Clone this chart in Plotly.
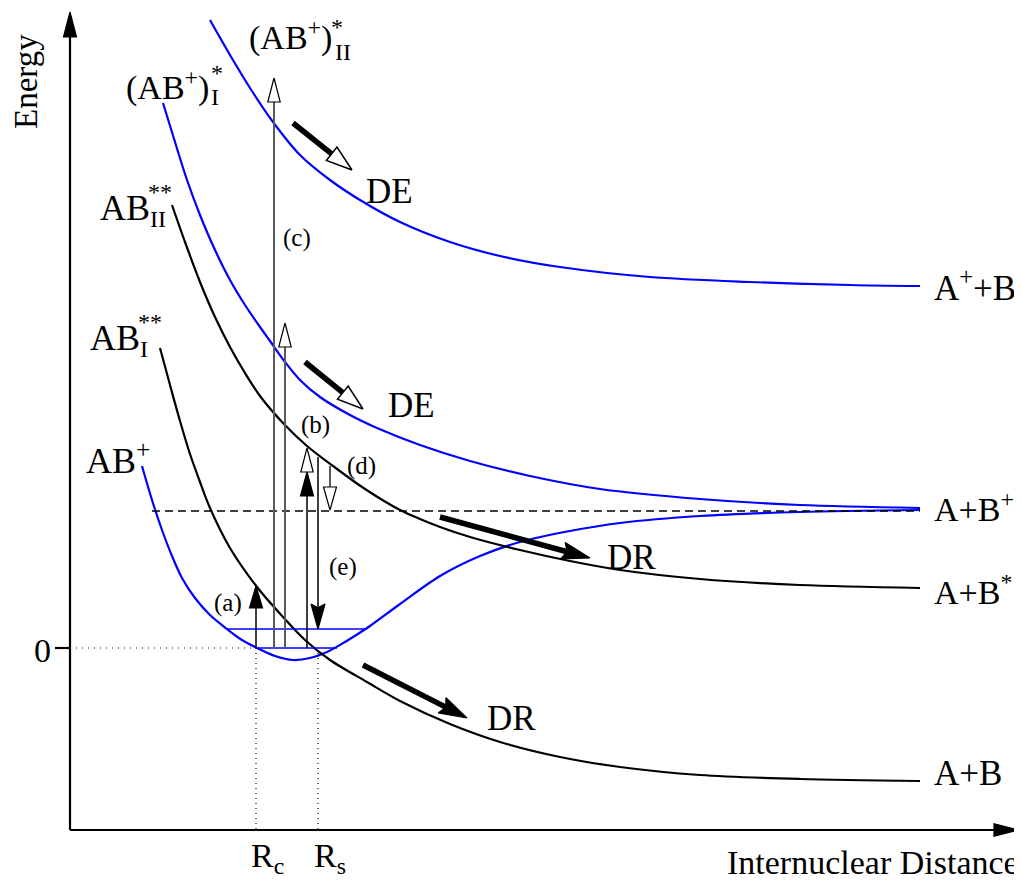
import plotly.graph_objects as go
import numpy as np

FONT = "Liberation Serif"
BLUE = "#0000ff"

# ---- potential energy curves (R = internuclear distance, E = energy, arbitrary units) ----
ion_R = [0.72, 0.82, 0.92, 1.02, 1.12, 1.25, 1.40, 1.57, 1.72, 1.87, 2.05, 2.23, 2.40, 2.57, 2.75,
         3.00, 3.30, 3.70, 4.10, 4.50, 5.00, 5.50, 6.30, 7.30, 8.50]
ion_E = [1.82, 1.48, 1.18, 0.92, 0.70, 0.50, 0.33, 0.19, 0.08, 0.00, -0.08, -0.12, -0.10, -0.04, 0.06,
         0.22, 0.44, 0.72, 0.92, 1.06, 1.17, 1.25, 1.32, 1.36, 1.38]

ionI_R = [0.93, 1.05, 1.17, 1.30, 1.45, 1.60, 1.75, 1.90, 2.00, 2.15, 2.30, 2.50, 2.80, 3.07, 3.50,
          4.00, 4.60, 5.30, 6.30, 7.30, 8.50]
ionI_E = [5.45, 5.06, 4.68, 4.33, 3.98, 3.68, 3.43, 3.21, 3.07, 2.86, 2.68, 2.51, 2.33, 2.20, 2.03,
          1.87, 1.72, 1.59, 1.49, 1.43, 1.40]

ionII_R = [1.40, 1.60, 1.80, 2.03, 2.30, 2.60, 2.90, 3.30, 3.80, 4.30, 4.90, 5.80, 6.80, 7.80, 8.50]
ionII_E = [6.28, 5.93, 5.60, 5.26, 4.93, 4.68, 4.48, 4.26, 4.06, 3.92, 3.81, 3.71, 3.66, 3.63, 3.62]

dsII_R = [1.02, 1.15, 1.30, 1.45, 1.60, 1.75, 1.90, 2.13, 2.37, 2.63, 2.95, 3.30, 3.50, 3.70, 4.00,
          4.50, 5.00, 5.50, 6.30, 7.30, 8.50]
dsII_E = [4.43, 4.06, 3.66, 3.31, 3.01, 2.75, 2.52, 2.25, 2.02, 1.82, 1.59, 1.38, 1.29, 1.21, 1.11,
          0.98, 0.87, 0.78, 0.69, 0.63, 0.60]

dsI_R = [0.90, 1.00, 1.10, 1.20, 1.30, 1.40, 1.60, 1.87, 2.13, 2.35, 2.60, 2.97, 3.30, 3.80, 4.30,
         4.90, 5.50, 6.30, 7.30, 8.50]
dsI_E = [3.00, 2.63, 2.27, 1.94, 1.66, 1.40, 1.00, 0.61, 0.31, 0.08, -0.12, -0.34, -0.53, -0.76, -0.94,
         -1.09, -1.19, -1.27, -1.31, -1.33]

# vibrational levels of AB+
vib_E = [0.00, 0.19]
vib_Rmin = [1.87, 1.57]
vib_Rmax = [2.67, 2.97]

# A + B+ asymptote (dashed)
asym_E = 1.37
asym_R = [0.82, 8.50]

# special distances
R_c = 1.86
R_s = 2.48

# axes extents
E_axis = -1.82
R_axis_end = 9.48
E_axis_end = 6.36

# vertical transitions: (R, E_from, E_to)
trans_a = (1.86, 0.00, 0.62)
trans_c = (2.04, 0.00, 5.70)
trans_x = (2.15, 0.00, 3.25)
trans_b = (2.37, 0.00, 1.76, 2.00)
trans_e = (2.48, 1.91, 0.19)
trans_d = (2.60, 1.82, 1.38)

# dissociation arrows: (R0, E0, R1, E1)
de_arrows = [(2.23, 5.25, 2.82, 4.78), (2.35, 2.86, 2.93, 2.39)]
dr_arrows = [(3.70, 1.31, 5.20, 0.90), (2.93, -0.17, 3.97, -0.70)]

fig = go.Figure()


def line(xs, ys, color="black", width=2, dash=None, shape="linear"):
    fig.add_trace(go.Scatter(x=xs, y=ys, mode="lines",
                             line=dict(color=color, width=width, dash=dash, shape=shape,
                                       smoothing=0.9 if shape == "spline" else None),
                             hoverinfo="skip", showlegend=False))


def head(x0, y0, x1, y1, L, W, filled=True, notch=0.0, lw=1.2):
    d = np.array([x1 - x0, y1 - y0], dtype=float)
    d /= np.linalg.norm(d)
    p = np.array([-d[1], d[0]])
    tip = np.array([x1, y1], dtype=float)
    base = tip - L * d
    pts = [tip, base + W * p, base + notch * L * d, base - W * p, tip]
    fig.add_trace(go.Scatter(x=[q[0] for q in pts], y=[q[1] for q in pts], mode="lines",
                             fill="toself", fillcolor="black" if filled else "white",
                             line=dict(color="black", width=lw),
                             hoverinfo="skip", showlegend=False))
    return base


# curves
line(ion_R, ion_E, BLUE, 2.2, shape="spline")
line(ionI_R, ionI_E, BLUE, 2.2, shape="spline")
line(ionII_R, ionII_E, BLUE, 2.2, shape="spline")
line(dsII_R, dsII_E, "black", 2.2, shape="spline")
line(dsI_R, dsI_E, "black", 2.2, shape="spline")

for e, r0, r1 in zip(vib_E, vib_Rmin, vib_Rmax):
    line([r0, r1], [e, e], BLUE, 1.3)

line(asym_R, [asym_E, asym_E], "black", 1.3, dash="8px,5px")
line([0, R_c], [0, 0], "black", 1.2, dash="1px,5px")
line([R_c, R_c], [0, E_axis], "black", 1.2, dash="1px,4px")
line([R_s, R_s], [-0.05, E_axis], "black", 1.2, dash="1px,4px")

# axes
line([0, 0], [E_axis, E_axis_end - 0.2], "black", 2.2)
line([0, R_axis_end - 0.2], [E_axis, E_axis], "black", 2.2)
head(0, 0, 0, E_axis_end, 0.25, 0.065)
head(0, E_axis, R_axis_end, E_axis, 0.24, 0.062)
line([-0.15, 0], [0, 0], "black", 2.2)

# vertical transitions
r, e0, e1 = trans_a
line([r, r], [e0, e1 - 0.1], "black", 1.5)
head(r, e0, r, e1, 0.22, 0.065)

for (r, e0, e1) in (trans_c, trans_x):
    line([r, r], [e0, e1 - 0.1], "#5a5a5a", 2)
    head(r, e0, r, e1, 0.24, 0.062, filled=False)

r, e0, e1, e2 = trans_b
line([r, r], [e0, e1 - 0.1], "black", 1.5)
head(r, e0, r, e1, 0.24, 0.065)
head(r, e0, r, e2, 0.24, 0.062, filled=False)

r, e0, e1 = trans_e
line([r, r], [e0, e1 + 0.1], "black", 1.5)
head(r, e0, r, e1, 0.25, 0.07, notch=0.15)

r, e0, e1 = trans_d
line([r, r], [e0, e1 + 0.1], "black", 1.3)
head(r, e0, r, e1, 0.23, 0.065, filled=False)

# DE / DR arrows
for (x0, y0, x1, y1) in de_arrows:
    d = np.hypot(x1 - x0, y1 - y0)
    f = (d - 0.24) / d
    line([x0, x0 + f * (x1 - x0)], [y0, y0 + f * (y1 - y0)], "black", 5.5)
    head(x0, y0, x1, y1, 0.26, 0.085, filled=False, lw=1.5)

for (x0, y0, x1, y1) in dr_arrows:
    d = np.hypot(x1 - x0, y1 - y0)
    f = (d - 0.2) / d
    line([x0, x0 + f * (x1 - x0)], [y0, y0 + f * (y1 - y0)], "black", 5.5)
    head(x0, y0, x1, y1, 0.28, 0.085, notch=0.15)

# labels
ann = []


def text(t, x, y, size=30, xa="left", ya="middle", angle=0):
    ann.append(dict(text=t, x=x, y=y, xref="x", yref="y", showarrow=False,
                    xanchor=xa, yanchor=ya, textangle=angle,
                    font=dict(family=FONT, size=size, color="black")))


BIG = 35
SUB = 24
text("DE", 2.94, 4.57, BIG)
text("DE", 3.16, 2.43, BIG)
text("DR", 5.35, 0.91, BIG)
text("DR", 4.15, -0.70, BIG)
text("A<sup>+</sup>+B", 8.62, 3.63, BIG)
text("A+B<sup>+</sup>", 8.62, 1.41, 34)
text("A+B<sup>*</sup>", 8.62, 0.58, 34)
text("A+B", 8.62, -1.25, BIG)

text("(a)", 1.58, 0.45, 25, "center")
text("(b)", 2.45, 2.23, 25, "center")
text("(c)", 2.27, 4.10, 25, "center")
text("(d)", 2.91, 1.82, 25, "center")
text("(e)", 2.73, 0.81, 25, "center")

text("AB", 0.82, 4.40, 36, "right")
text("**", 0.76, 4.56, SUB)
text("II", 0.78, 4.29, SUB)

text("AB", 0.72, 3.10, 36, "right")
text("**", 0.66, 3.26, SUB)
text("I", 0.68, 2.99, SUB)

text("AB<sup>+</sup>", 0.14, 1.90, 36)

text("(AB<sup>+</sup>)", 1.41, 5.63, 34, "right")
text("*", 1.39, 5.75, SUB)
text("I", 1.39, 5.51, SUB)

text("(AB<sup>+</sup>)", 2.64, 6.13, 34, "right")
text("*", 2.59, 6.21, SUB)
text("II", 2.63, 5.96, SUB)

text("Energy", -0.44, 5.66, 33, "center", angle=-90)
text("0", -0.17, -0.02, 34, "right")
text("R<sub>c</sub>", 1.79, -2.10, 34)
text("R<sub>s</sub>", 2.42, -2.10, 34)
text("Internuclear Distance", 9.51, -2.14, 34, "right")

fig.update_layout(
    width=1014, height=874,
    margin=dict(l=0, r=0, t=0, b=0),
    paper_bgcolor="white", plot_bgcolor="white",
    xaxis=dict(range=[-0.62, 9.52], visible=False, fixedrange=True),
    yaxis=dict(range=[-2.34, 6.40], visible=False, fixedrange=True),
    annotations=ann,
    showlegend=False,
    hovermode=False,
)

fig.write_html("out.html")
